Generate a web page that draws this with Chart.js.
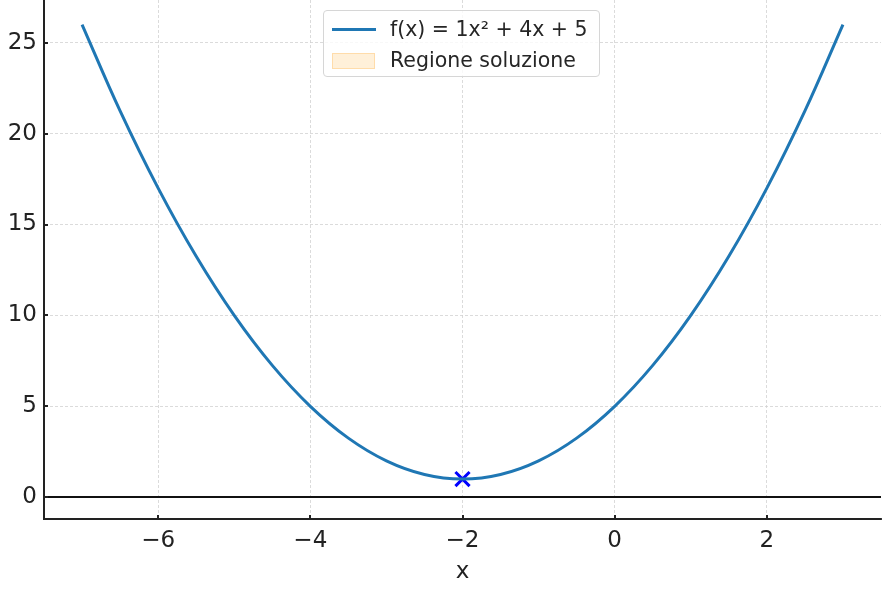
<!DOCTYPE html>
<html>
<head>
<meta charset="utf-8">
<script src="https://cdn.jsdelivr.net/npm/chart.js@4.4.1/dist/chart.umd.min.js"></script>
<style>
  html, body { margin:0; padding:0; background:#fff; }
  #wrap { position:relative; width:895px; height:599px; }
  #legend {
    position:absolute; left:323px; top:10px; width:275px; height:65px;
    border:1.5px solid #d6d6d6; border-radius:4px; background:rgba(255,255,255,0.8);
    font-family:"DejaVu Sans", sans-serif; font-size:20.5px; color:#262626;
  }
  .leg-row { position:absolute; left:0; height:24px; line-height:24px; white-space:nowrap; }
  .leg-line { position:absolute; left:8px; top:11px; width:44px; height:3px; background:#1f77b4; }
  .leg-patch { position:absolute; left:8px; top:5px; width:41px; height:14px; background:#fff0d9; border:1px solid #ffdcaa; }
  .leg-text { position:absolute; left:66px; top:0; }
</style>
</head>
<body>
<div id="wrap">
  <canvas id="myChart" width="895" height="599"></canvas>
  <div id="legend">
    <div class="leg-row" style="top:6px"><span class="leg-line"></span><span class="leg-text">f(x) = 1x² + 4x + 5</span></div>
    <div class="leg-row" style="top:37px"><span class="leg-patch"></span><span class="leg-text">Regione soluzione</span></div>
  </div>
</div>
<script>
let xValues = [-7, -6.5, -6, -5.5, -5, -4.5, -4, -3.5, -3, -2.5, -2, -1.5, -1, -0.5, 0, 0.5, 1, 1.5, 2, 2.5, 3];
let yValues = [26, 21.25, 17, 13.25, 10, 7.25, 5, 3.25, 2, 1.25, 1, 1.25, 2, 3.25, 5, 7.25, 10, 13.25, 17, 21.25, 26];
let vertexX = [-2];
let vertexY = [1];
let xTicks = [-6, -4, -2, 0, 2];
let yTicks = [0, 5, 10, 15, 20, 25];
let xLimits = [-7.5, 3.5];
let yLimits = [-1.2, 27.35];
let baseLineY = 0;

let tickFont = { family: 'DejaVu Sans', size: 23 };
let textColor = '#222';

function minusLabel(v) {
  return String(v).replace('-', '\u2212');
}

let curvePoints = xValues.map(function(x, i) { return { x: x, y: yValues[i] }; });
let vertexPoints = vertexX.map(function(x, i) { return { x: x, y: vertexY[i] }; });

// axhline at y=0 and the inward tick marks
let extrasPlugin = {
  id: 'extras',
  beforeDatasetsDraw(chart) {
    let ctx = chart.ctx;
    let area = chart.chartArea;
    let y = Math.round(chart.scales.y.getPixelForValue(baseLineY));
    ctx.save();
    ctx.strokeStyle = '#111';
    ctx.lineWidth = 2;
    ctx.beginPath();
    ctx.moveTo(area.left, y);
    ctx.lineTo(area.right, y);
    ctx.stroke();
    ctx.restore();
  },
  afterDraw(chart) {
    let ctx = chart.ctx;
    let area = chart.chartArea;
    ctx.save();
    ctx.strokeStyle = '#222';
    ctx.lineWidth = 2;
    chart.scales.x.ticks.forEach(function(t) {
      let px = Math.round(chart.scales.x.getPixelForValue(t.value));
      ctx.beginPath();
      ctx.moveTo(px, area.bottom);
      ctx.lineTo(px, area.bottom - 4);
      ctx.stroke();
    });
    chart.scales.y.ticks.forEach(function(t) {
      let py = Math.round(chart.scales.y.getPixelForValue(t.value));
      ctx.beginPath();
      ctx.moveTo(area.left, py);
      ctx.lineTo(area.left + 4, py);
      ctx.stroke();
    });
    ctx.restore();
  }
};

let ctx = document.getElementById('myChart').getContext('2d');
let myChart = new Chart(ctx, {
  type: 'scatter',
  data: {
    datasets: [{
      data: curvePoints,
      showLine: true,
      borderColor: '#1f77b4',
      borderWidth: 3,
      pointRadius: 0,
      tension: 0.4,
      fill: false,
    }, {
      data: vertexPoints,
      pointStyle: 'crossRot',
      pointRadius: 10,
      borderColor: '#0000ff',
      borderWidth: 3,
      backgroundColor: '#0000ff',
    }],
  },
  options: {
    responsive: false,
    animation: false,
    layout: { autoPadding: false, padding: { top: 0, right: 14, left: 0, bottom: 0 } },
    plugins: {
      legend: { display: false },
      tooltip: { enabled: false },
    },
    scales: {
      x: {
        type: 'linear',
        min: xLimits[0],
        max: xLimits[1],
        afterBuildTicks: function(scale) {
          scale.ticks = xTicks.map(function(v) { return { value: v }; });
        },
        afterFit: function(scale) {
          scale.height = 80;
          scale.paddingLeft = 0;
          scale.paddingRight = 0;
        },
        grid: { color: '#d2d2d2', lineWidth: 0.8, drawTicks: false },
        border: { display: true, color: '#222', width: 2, dash: [3, 2] },
        ticks: {
          font: tickFont,
          color: textColor,
          padding: 8,
          maxRotation: 0,
          callback: minusLabel,
        },
        title: {
          display: true,
          text: 'x',
          font: tickFont,
          color: textColor,
          padding: { top: 4, bottom: 13 },
        },
      },
      y: {
        type: 'linear',
        min: yLimits[0],
        max: yLimits[1],
        afterBuildTicks: function(scale) {
          scale.ticks = yTicks.map(function(v) { return { value: v }; });
        },
        afterFit: function(scale) {
          scale.width = 44;
          scale.paddingTop = 0;
          scale.paddingBottom = 0;
        },
        grid: { color: '#d2d2d2', lineWidth: 0.8, drawTicks: false },
        border: { display: true, color: '#222', width: 2, dash: [3, 2] },
        ticks: {
          font: tickFont,
          color: textColor,
          padding: 7,
          callback: minusLabel,
        },
      },
    },
  },
  plugins: [extrasPlugin],
});
</script>
</body>
</html>
